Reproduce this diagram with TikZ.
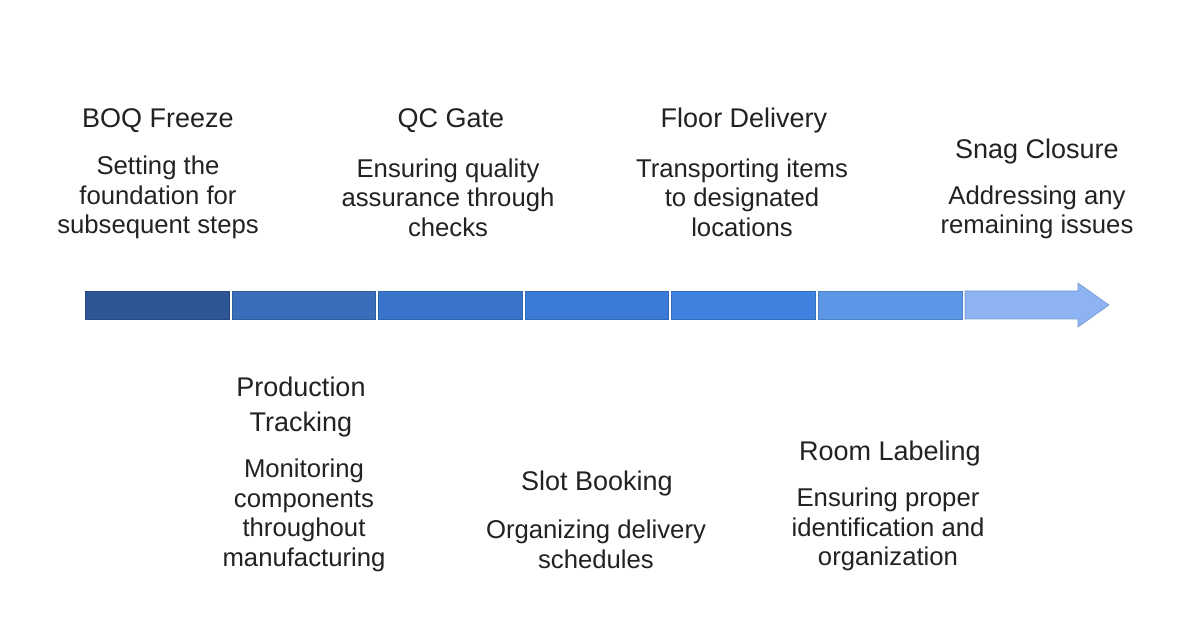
\documentclass[tikz,border=0pt]{standalone}
\usepackage{fontspec}
\setmainfont{Liberation Sans}
\definecolor{txt}{HTML}{222222}
\definecolor{c1}{HTML}{2E5596}
\definecolor{c2}{HTML}{3A6DBA}
\definecolor{c3}{HTML}{3874CB}
\definecolor{c4}{HTML}{3B7BD8}
\definecolor{c5}{HTML}{3F82E0}
\definecolor{c6}{HTML}{5C96E6}
\definecolor{c7}{HTML}{8DB3F2}
\begin{document}
\begin{tikzpicture}[x=1pt,y=-1pt,
  ttl/.style={font=\fontsize{27}{35}\selectfont, text=txt, align=center, inner sep=0pt},
  dsc/.style={font=\fontsize{25.7}{29.5}\selectfont, text=txt, align=center, inner sep=0pt},
  seg/.style={draw=#1!85!black, line width=0.6pt, fill=#1}]
\useasboundingbox[fill=white] (0,0) rectangle (1200,628);
% bar segments
\path[seg=c1] (85,291) rectangle (229,319);
\path[seg=c2] (232,291) rectangle (375,319);
\path[seg=c3] (378,291) rectangle (522,319);
\path[seg=c4] (525,291) rectangle (668,319);
\path[seg=c5] (671,291) rectangle (815,319);
\path[seg=c6] (818,291) rectangle (962,319);
\path[seg=c7] (965,291) -- (1078,291) -- (1078,283) -- (1109,305) -- (1078,327) -- (1078,319) -- (965,319) -- cycle;
% top labels
\node[ttl] (t1) at (158,121) {BOQ Freeze};
\node[dsc] (d1) at (158,197.5) {Setting the\\foundation for\\subsequent steps};
\node[ttl] (t3) at (451,121) {QC Gate};
\node[dsc] (d3) at (448,197.5) {Ensuring quality\\assurance through\\checks};
\node[ttl] (t5) at (744,121) {Floor Delivery};
\node[dsc] (d5) at (742,197.5) {Transporting items\\to designated\\locations};
\node[ttl] (t7) at (1037,152) {Snag Closure};
\node[dsc] (d7) at (1037,212.5) {Addressing any\\remaining issues};
% bottom labels
\node[ttl] (t2) at (301,407) {Production\\Tracking};
\node[dsc] (d2) at (304,515.5) {Monitoring\\components\\throughout\\manufacturing};
\node[ttl] (t4) at (597,484) {Slot Booking};
\node[dsc] (d4) at (596,544.5) {Organizing delivery\\schedules};
\node[ttl] (t6) at (890,454) {Room Labeling};
\node[dsc] (d6) at (888,529.5) {Ensuring proper\\identification and\\organization};
\end{tikzpicture}
\end{document}
